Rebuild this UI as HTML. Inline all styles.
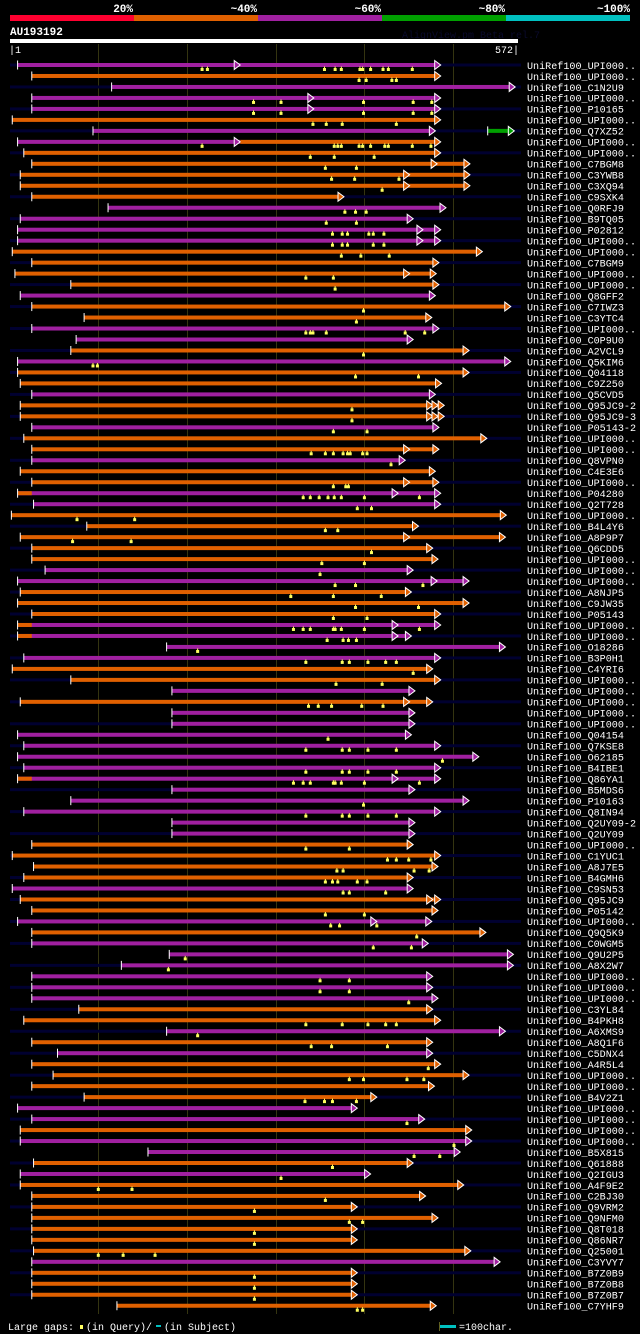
<!DOCTYPE html>
<html><head><meta charset="utf-8"><style>
html,body{margin:0;padding:0;background:#000;}
svg{display:block;}
text{font-family:"Liberation Mono","DejaVu Sans Mono",monospace;}
</style></head><body>
<svg id="chart" width="640" height="1334" viewBox="0 0 640 1334" xmlns="http://www.w3.org/2000/svg">
<g>
<rect x="10" y="15" width="124" height="6" fill="#ff0030"/>
<rect x="134" y="15" width="124" height="6" fill="#e06000"/>
<rect x="258" y="15" width="124" height="6" fill="#a020a0"/>
<rect x="382" y="15" width="124" height="6" fill="#00a000"/>
<rect x="506" y="15" width="124" height="6" fill="#00c0c0"/>
<text x="133" y="12" fill="#fff" font-size="11" font-weight="bold" text-anchor="end">20%</text>
<text x="257" y="12" fill="#fff" font-size="11" font-weight="bold" text-anchor="end">~40%</text>
<text x="381" y="12" fill="#fff" font-size="11" font-weight="bold" text-anchor="end">~60%</text>
<text x="505" y="12" fill="#fff" font-size="11" font-weight="bold" text-anchor="end">~80%</text>
<text x="630" y="12" fill="#fff" font-size="11" font-weight="bold" text-anchor="end">~100%</text>
</g>
<text x="10" y="35" fill="#fff" font-size="11" font-weight="bold">AU193192</text>
<text x="402" y="38" fill="#0a0a2c" font-size="10">AlignView.pm Beta rel.7</text>
<rect x="10" y="39" width="508" height="4" fill="#fff"/>
<text x="9" y="53" fill="#fff" font-size="10">|1</text>
<text x="519" y="53" fill="#fff" font-size="10" text-anchor="end">572|</text>
<g id="grid"></g>
<g id="rows"></g>
<g>
<text x="8" y="1330" fill="#fff" font-size="10">Large gaps:</text>
<rect x="80" y="1325" width="3" height="4" fill="#ffff60"/>
<text x="86" y="1330" fill="#fff" font-size="10">(in Query)/</text>
<rect x="156" y="1325" width="5" height="2" fill="#00c0c0"/>
<text x="164" y="1330" fill="#fff" font-size="10">(in Subject)</text>
<rect x="439" y="1322" width="1" height="9" fill="#606020"/>
<rect x="440" y="1325" width="16" height="3" fill="#00c0c0"/>
<text x="459" y="1330" fill="#fff" font-size="10">=100char.</text>
</g>
</svg>
<script>
const labels = ["UPI000..","UPI000..","C1N2U9","UPI000..","P10165","UPI000..","Q7XZ52","UPI000..","UPI000..","C7BGM8","C3YWB8","C3XQ94","C9SXK4","Q0RFJ9","B9TQ05","P02812","UPI000..","UPI000..","C7BGM9","UPI000..","UPI000..","Q8GFF2","C7IWZ3","C3YTC4","UPI000..","C0P9U0","A2VCL9","Q5KIM6","Q04118","C9Z250","Q5CVD5","Q95JC9-2","Q95JC9-3","P05143-2","UPI000..","UPI000..","Q8VPN0","C4E3E6","UPI000..","P04280","Q2T728","UPI000..","B4L4Y6","A8P9P7","Q6CDD5","UPI000..","UPI000..","UPI000..","A8NJP5","C9JW35","P05143","UPI000..","UPI000..","O18286","B3P0H1","C4YRI6","UPI000..","UPI000..","UPI000..","UPI000..","UPI000..","Q04154","Q7KSE8","O62185","B4IBE1","Q86YA1","B5MDS6","P10163","Q8IN94","Q2UY09-2","Q2UY09","UPI000..","C1YUC1","A8J7E5","B4GMH6","C9SN53","Q95JC9","P05142","UPI000..","Q9Q5K9","C0WGM5","Q9U2P5","A8X2W7","UPI000..","UPI000..","UPI000..","C3YL84","B4PKH8","A6XMS9","A8Q1F6","C5DNX4","A4R5L4","UPI000..","UPI000..","B4V2Z1","UPI000..","UPI000..","UPI000..","UPI000..","B5X815","Q61888","Q2IGU3","A4F9E2","C2BJ30","Q9VRM2","Q9NFM0","Q8T018","Q86NR7","Q25001","C3YVY7","B7Z0B9","B7Z0B8","B7Z0B7","C7YHF9"];
const starts = [9,25,115,25,25,3,94,9,16,25,12,12,25,111,12,9,9,3,25,6,69,12,25,84,25,75,69,9,9,12,25,12,12,25,16,25,25,12,25,9,27,2,87,12,25,25,40,9,12,9,25,9,9,177,16,3,69,183,12,183,183,9,16,9,16,9,183,69,16,183,183,25,3,27,16,3,12,25,9,25,25,180,126,25,25,25,78,16,177,25,54,25,49,25,84,9,25,12,12,156,27,12,12,25,25,25,25,25,27,25,25,25,25,121];
const ends = [486,486,570,486,486,486,480,486,486,519,519,519,377,492,455,486,486,533,484,481,484,480,565,476,484,455,518,565,518,487,480,490,490,484,538,484,446,480,484,486,486,560,461,559,477,483,455,518,453,518,486,486,453,559,486,477,486,457,477,457,457,453,486,529,486,486,457,518,486,457,457,455,486,483,455,455,486,483,476,537,472,568,568,477,477,483,477,486,559,477,477,486,518,479,414,392,468,521,521,508,455,407,512,469,392,483,392,392,520,553,392,392,392,481];
const colors = "POPPPOPMOO" + "OOOPPPPOOO" + "OPOOPPOPOO" + "POOPOOPOOP" + "POOOOOPPOO" + "OPPPPOOPOP" + "PPPPPPPPPP" + "POOOOPOOPO" + "PPPPPPOOPO" + "POOOOPPOPP" + "OPOOOOOOOP" + "OOOO";
const innerArrows = [[0,260],[3,343],[4,343],[7,260],[9,482],[10,451],[11,451],[15,466],[16,466],[19,451],[31,477],[31,483],[32,477],[32,483],[35,451],[38,451],[39,438],[43,451],[47,482],[51,438],[52,438],[58,451],[65,438],[76,477],[78,414]];
const orangePrefixRows = [39,51,52,65];
const prefixEnd = 25;
const gapMarks = [[0,217],[0,223],[0,355],[0,367],[0,374],[0,395],[0,398],[0,407],[0,421],[0,427],[0,454],[1,394],[1,402],[1,431],[1,436],[3,275],[3,306],[3,399],[3,455],[3,476],[4,275],[4,306],[4,399],[4,455],[4,476],[5,342],[5,357],[5,375],[5,436],[7,217],[7,366],[7,370],[7,374],[7,394],[7,398],[7,407],[7,423],[7,427],[7,454],[7,475],[8,339],[8,366],[8,411],[9,356],[9,391],[10,363],[10,389],[10,439],[11,420],[13,378],[13,390],[13,402],[14,357],[14,391],[15,364],[15,375],[15,381],[15,405],[15,410],[15,422],[16,364],[16,375],[16,381],[16,410],[16,422],[17,374],[17,396],[17,428],[19,334],[19,365],[20,367],[22,399],[23,391],[24,334],[24,339],[24,342],[24,357],[24,446],[24,468],[26,399],[27,94],[27,99],[28,390],[28,461],[31,386],[32,386],[33,365],[33,403],[35,340],[35,356],[35,365],[35,376],[35,381],[35,384],[35,398],[35,403],[36,430],[38,365],[38,379],[38,382],[39,331],[39,339],[39,349],[39,359],[39,366],[39,374],[39,400],[39,462],[40,392],[40,408],[41,76],[41,141],[42,356],[42,370],[43,71],[43,137],[44,408],[45,352],[45,400],[46,350],[47,367],[47,390],[47,466],[48,317],[48,365],[48,419],[49,390],[49,461],[50,365],[50,403],[51,320],[51,331],[51,339],[51,365],[51,367],[51,374],[51,400],[51,462],[52,358],[52,376],[52,382],[52,391],[53,212],[54,334],[54,375],[54,383],[54,404],[54,424],[54,436],[55,455],[56,368],[56,420],[58,337],[58,348],[58,363],[58,397],[58,421],[61,359],[62,334],[62,375],[62,383],[62,404],[62,436],[63,488],[64,334],[64,375],[64,383],[64,404],[64,436],[65,320],[65,331],[65,339],[65,365],[65,367],[65,374],[65,400],[65,462],[67,399],[68,334],[68,375],[68,383],[68,404],[68,436],[71,334],[71,383],[72,426],[72,436],[72,450],[72,475],[73,369],[73,376],[73,456],[73,473],[74,356],[74,364],[74,370],[74,392],[74,403],[75,376],[75,383],[75,424],[77,356],[77,400],[78,362],[78,372],[78,414],[79,459],[80,410],[80,453],[81,198],[82,179],[83,350],[83,383],[84,350],[84,383],[85,450],[87,334],[87,375],[87,404],[87,424],[87,436],[88,212],[89,340],[89,363],[89,426],[91,472],[92,383],[92,399],[92,448],[92,467],[94,333],[94,355],[94,364],[94,391],[96,448],[98,501],[99,456],[99,485],[100,364],[101,306],[102,100],[102,138],[103,356],[104,276],[105,383],[105,398],[106,276],[107,276],[108,100],[108,128],[108,164],[110,276],[111,276],[112,276],[113,392],[113,398]];
const greenSegments = [[6,539,569]];
const gridTicks = [100,200,300,400,500];

const NS = "http://www.w3.org/2000/svg";
function xScale(r){ return 9.6 + 0.887*r; }
function yRow(i){ return 65 + 10.98*i; }
function mk(tag, attrs, parent){
  const e = document.createElementNS(NS, tag);
  for (const k in attrs) e.setAttribute(k, attrs[k]);
  parent.appendChild(e);
  return e;
}
const COL = {P:"#a020a0", O:"#e06000", G:"#00a000"};
const grid = document.getElementById('grid');
const rowsG = document.getElementById('rows');

for (const t of gridTicks){
  const l = mk('rect', {x: Math.round(xScale(t)), y: 44, width: 1, height: 1270, fill: "#343410"}, grid);
  
  
}

function arrow(x, y, color, parent){
  const p = mk('polygon', {points: `${x-6},${y-4.5} ${x},${y} ${x-6},${y+4.5}`, fill: color, stroke: "#fff", "stroke-width": 1}, parent);
  
  
}

for (let i = 0; i < labels.length; i++){
  const y = yRow(i);
  const g = mk('g', {}, rowsG);
  
  
  if (i % 2 === 0){
    const bg = mk('rect', {x: 10, y: y-1.5, width: 511, height: 3, fill: "#000030"}, g);
    
    
  }
  const c = colors[i] || 'O';
  const x0 = xScale(starts[i]), x1 = xScale(ends[i]);
  if (c === 'M'){
    const xm = xScale(260);
    const a = mk('rect', {x: x0, y: y-2, width: xm-x0, height: 4, fill: COL.P}, g);
    
    
    const b = mk('rect', {x: xm, y: y-2, width: x1-6-xm, height: 4, fill: COL.O}, g);
    
    
  } else {
    const b = mk('rect', {x: x0, y: y-2, width: x1-6-x0, height: 4, fill: COL[c]}, g);
    
    
  }
  if (orangePrefixRows.includes(i)){
    const pr = mk('rect', {x: x0, y: y-2, width: xScale(prefixEnd)-x0, height: 4, fill: COL.O}, g);
    
    
  }
  const tk = mk('rect', {x: x0-0.5, y: y-4.5, width: 1, height: 9, fill: "#fff"}, g);
  
  
  const endColor = c === 'M' ? COL.O : COL[c];
  arrow(x1, y, endColor, g);
  const lab = mk('text', {x: 527, y: y+3.8, fill: "#fff", "font-size": 10.1}, g);
  lab.textContent = "UniRef100_" + labels[i];
  
  
}
for (const [ri, r] of innerArrows){
  const c = colors[ri] === 'M' ? (r <= 260 ? COL.P : COL.O) : COL[colors[ri]];
  arrow(xScale(r), yRow(ri), c, rowsG.children[ri]);
}
for (const [ri, a, b] of greenSegments){
  const y = yRow(ri), g = rowsG.children[ri];
  const s = mk('rect', {x: xScale(a), y: y-2, width: xScale(b)-6-xScale(a), height: 4, fill: COL.G}, g);
  
  
  const t = mk('rect', {x: xScale(a)-0.5, y: y-4.5, width: 1, height: 9, fill: "#fff"}, g);
  
  
  arrow(xScale(b), y, COL.G, g);
}
for (const [ri, r] of gapMarks){
  const y = yRow(ri);
  const m = mk('rect', {x: xScale(r)-1.5, y: y+3, width: 3, height: 3, fill: "#ffff60"}, rowsG.children[ri]);
  
  
  const s = mk('rect', {x: xScale(r)-0.5, y: y+1.5, width: 1, height: 2, fill: "#ffff60"}, rowsG.children[ri]);
  
  
}
</script>
</body></html>
